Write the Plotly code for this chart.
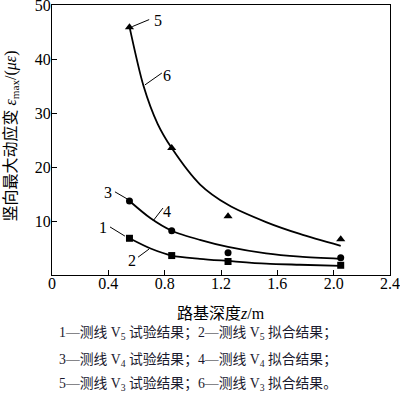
import plotly.graph_objects as go

# measured data
depth = [0.55, 0.85, 1.25, 2.05]
v5_test = [6.8, 3.6, 2.5, 1.8]
v4_test = [13.7, 8.2, 4.1, 3.2]
v3_test = [45.9, 23.5, 10.9, 6.6]

# fitted curves
v5_fit_x = [0.55, 0.7, 0.85, 1.05, 1.25, 1.52, 1.76, 2.05]
v5_fit_y = [6.8, 4.9, 3.6, 3.0, 2.6, 2.1, 1.9, 1.7]
v4_fit_x = [0.55, 0.7, 0.85, 1.05, 1.25, 1.52, 1.76, 2.05]
v4_fit_y = [13.7, 10.5, 8.2, 6.5, 5.2, 4.0, 3.4, 3.0]
v3_fit_x = [0.55, 0.65, 0.75, 0.85, 1.05, 1.25, 1.52, 1.76, 2.05]
v3_fit_y = [46.0, 35.0, 28.0, 23.5, 16.8, 13.0, 9.8, 7.6, 5.4]

x_ticks = [0, 0.4, 0.8, 1.2, 1.6, 2.0, 2.4]
x_tick_text = ["0", "0.4", "0.8", "1.2", "1.6", "2.0", "2.4"]
y_ticks = [10, 20, 30, 40, 50]
y_tick_text = ["10", "20", "30", "40", "50"]

caption = [
    "1—测线 V<sub>5</sub> 试验结果；2—测线 V<sub>5</sub> 拟合结果；",
    "3—测线 V<sub>4</sub> 试验结果；4—测线 V<sub>4</sub> 拟合结果；",
    "5—测线 V<sub>3</sub> 试验结果；6—测线 V<sub>3</sub> 拟合结果。",
]

FONT = "'Liberation Serif', 'Times New Roman', 'Noto Sans CJK SC', serif"
fig = go.Figure()

line_style = dict(color="black", width=1.8, shape="spline", smoothing=0.8)
for fx, fy in [(v5_fit_x, v5_fit_y), (v4_fit_x, v4_fit_y), (v3_fit_x, v3_fit_y)]:
    fig.add_trace(go.Scatter(x=fx, y=fy, mode="lines", line=line_style,
                             showlegend=False, hoverinfo="skip"))

for ys, sym, sz in [(v5_test, "square", 7), (v4_test, "circle", 7),
                    (v3_test, "triangle-up", 8)]:
    fig.add_trace(go.Scatter(x=depth, y=ys, mode="markers",
                             marker=dict(symbol=sym, size=sz, color="black"),
                             showlegend=False))

# curve labels with leader lines
labels = [
    ("5", 0.75, 47.2, 0.57, 46.0, 0.69, 47.3),
    ("6", 0.82, 36.9, 0.66, 35.2, 0.78, 37.4),
    ("3", 0.40, 15.3, 0.447, 15.4, 0.533, 14.1),
    ("4", 0.82, 11.8, 0.717, 10.0, 0.788, 12.4),
    ("1", 0.365, 8.8, 0.412, 8.9, 0.518, 7.2),
    ("2", 0.568, 2.7, 0.611, 3.3, 0.689, 4.8),
]
for t, tx, ty, x0, y0, x1, y1 in labels:
    fig.add_annotation(x=tx, y=ty, text=t, showarrow=False,
                       font=dict(family=FONT, size=16, color="black"))
    fig.add_shape(type="line", x0=x0, y0=y0, x1=x1, y1=y1,
                  line=dict(color="black", width=1))

# y axis title
fig.add_annotation(xref="paper", yref="paper", x=-0.121, y=0.513,
                   text="竖向最大动应变 <i>ε</i><sub>max</sub>/(<i>με</i>)",
                   textangle=-90, showarrow=False, xanchor="center", yanchor="middle",
                   font=dict(family=FONT, size=16, color="black"))
# x axis title
fig.add_annotation(xref="paper", yref="paper", x=0.5, y=-0.141,
                   text="路基深度<i>z</i>/m", showarrow=False,
                   xanchor="center", yanchor="middle",
                   font=dict(family=FONT, size=16, color="black"))
# caption
for i, line in enumerate(caption):
    fig.add_annotation(xref="paper", yref="paper", x=0.433, y=[-0.216, -0.315, -0.405][i],
                       text=line, showarrow=False, xanchor="center",
                       yanchor="middle",
                       font=dict(family=FONT, size=13.8, color="#1a1a2e"))

fig.update_layout(
    width=400, height=395,
    margin=dict(l=52, r=10, t=5, b=120, autoexpand=False),
    paper_bgcolor="white", plot_bgcolor="white",
    font=dict(family=FONT, size=16, color="black"),
    xaxis=dict(range=[0, 2.4], tickvals=x_ticks, ticktext=x_tick_text,
               ticks="inside", ticklen=5, tickcolor="black", automargin=False,
               ticklabeloverflow="allow", ticklabelstandoff=-6,
               showline=True, linecolor="black", linewidth=1, mirror=True,
               showgrid=False, zeroline=False,
               tickfont=dict(family=FONT, size=16, color="black")),
    yaxis=dict(range=[0, 50], tickvals=y_ticks, ticktext=y_tick_text,
               ticks="inside", ticklen=5, tickcolor="black", automargin=False,
               ticklabeloverflow="allow", ticklabelstandoff=-3,
               showline=True, linecolor="black", linewidth=1, mirror=True,
               showgrid=False, zeroline=False,
               tickfont=dict(family=FONT, size=16, color="black")),
)

fig.write_html("out.html", config={"displayModeBar": False},
               post_script="document.body.style.margin='0';document.body.style.overflow='hidden';")
